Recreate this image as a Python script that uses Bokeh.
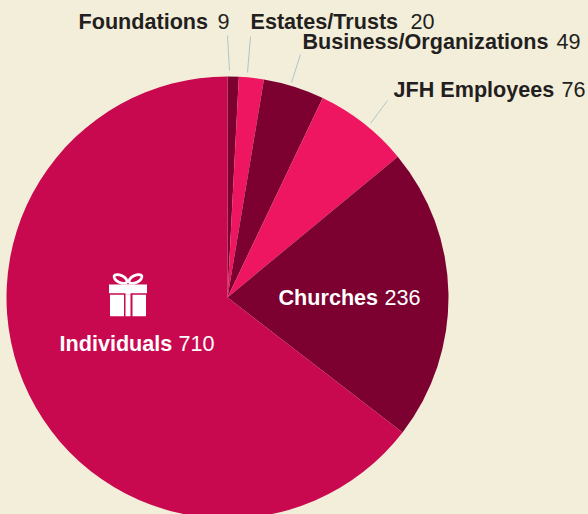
from math import pi
from bokeh.embed import file_html
from bokeh.resources import INLINE
from bokeh.plotting import figure
from bokeh.models import ColumnDataSource, Range1d
from bokeh.core.properties import value

categories = ["Foundations", "Estates/Trusts", "Business/Organizations", "JFH Employees", "Churches", "Individuals"]
amounts = [9, 20, 49, 76, 236, 710]
colors = ["#7c0030", "#ee1660", "#7c0030", "#ee1660", "#7c0030", "#c8094f"]

BG = "#f3eed9"
INK = "#231f20"
LEAD = "#afc5ca"
FONT = value("Liberation Sans")
CX, CY, R = 228, 297, 221


def Y(py):
    return 514 - py


p = figure(width=588, height=514, output_backend="svg", toolbar_location=None,
           x_range=Range1d(1, 589), y_range=Range1d(0, 514),
           background_fill_color=BG, border_fill_color=BG,
           min_border=0, outline_line_color=None)
p.axis.visible = False
p.grid.visible = False

total = sum(amounts)
starts, ends, run = [], [], 0
for a in amounts:
    starts.append(pi / 2 - 2 * pi * (run + a) / total)
    ends.append(pi / 2 - 2 * pi * run / total)
    run += a
p.wedge(x=CX, y=Y(CY), radius=R, start_angle="s", end_angle="e", fill_color="c", line_color=None,
        source=ColumnDataSource(dict(s=starts, e=ends, c=colors)))

# leaders
p.segment(x0=[228, 251, 301, 388], y0=[Y(35), Y(36), Y(54), Y(100)],
          x1=[230, 248, 292, 371], y1=[Y(70), Y(72), Y(82), Y(123)],
          line_color=LEAD, line_width=1)

# labels: name x, number x, baseline y
name_x = [79, 251, 303, 394, 279, 60]
num_x = [218, 411, 557, 562, 385, 179]
base_y = [21, 20.5, 41, 88.5, 297, 343]
text_c = [INK, INK, INK, INK, "white", "white"]
src = ColumnDataSource(dict(nx=name_x, vx=num_x, y=[Y(b) for b in base_y], n=categories,
                            v=[str(a) for a in amounts], c=text_c))
p.text(x="nx", y="y", text="n", text_color="c", text_font=FONT, text_font_size="21.6px",
       text_font_style="bold", text_baseline="alphabetic", source=src)
p.text(x="vx", y="y", text="v", text_color="c", text_font=FONT, text_font_size="21.6px",
       text_baseline="alphabetic", source=src)

# gift icon
p.quad(left=[109.5], right=[147.5], top=[Y(284)], bottom=[Y(292.7)], fill_color="white", line_color=None)
p.quad(left=[110.5, 126, 133], right=[124.5, 131, 146.5], top=[Y(294.3)] * 3, bottom=[Y(315.7)] * 3,
       fill_color="white", line_color=None)
p.quad(left=[126], right=[131], top=[Y(284)], bottom=[Y(294.3)], fill_color="white", line_color=None)
p.ellipse(x=[121, 136], y=[Y(278.5), Y(278.5)], width=14, height=7, angle=[-0.45, 0.45],
          fill_color=None, line_color="white", line_width=2.8)

html = file_html(p, INLINE).replace("</head>", f"<style>html,body{{background:{BG};overflow:hidden}}</style></head>")
open("out.html", "w").write(html)
